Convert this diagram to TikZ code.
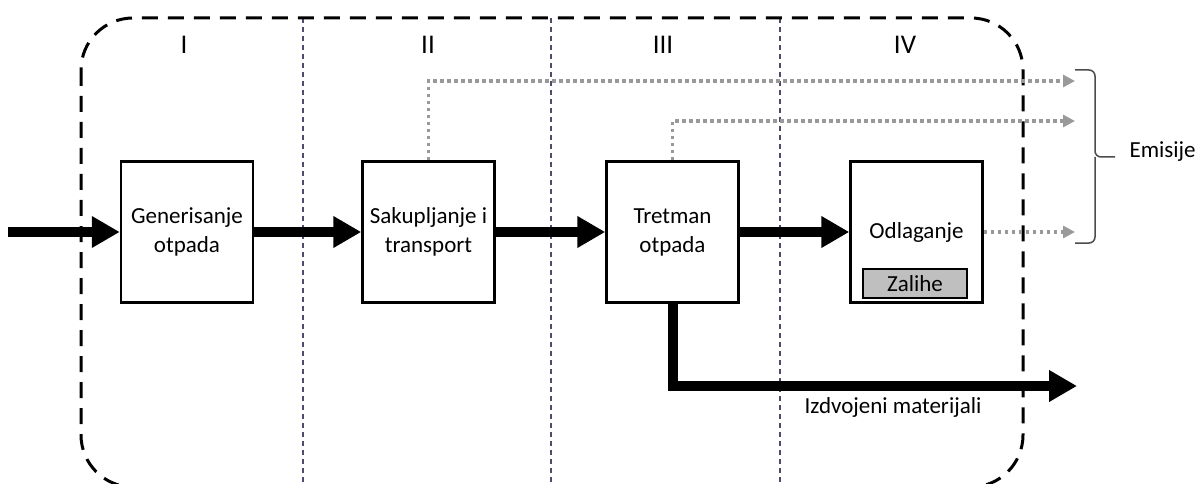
\documentclass[tikz,border=0pt]{standalone}
\usepackage{fontspec}
\setmainfont{Carlito}
\usetikzlibrary{arrows.meta}

\begin{document}
\begin{tikzpicture}[x=1pt,y=-1pt,
    font=\fontsize{23}{29}\selectfont,
    box/.style={draw,fill=white,line width=2.5pt,minimum width=132pt,minimum height=141pt,align=center,inner sep=0pt},
    flow/.style={line width=10pt,-{Triangle[length=28pt,width=30pt]}},
    emis/.style={draw=gray!80,line width=3.5pt,dash pattern=on 3.5pt off 3.5pt,-{Triangle[length=12pt,width=12pt]}},
    sep/.style={draw=blue!20!black!70,line width=1.2pt,dash pattern=on 5pt off 4pt}]
    \useasboundingbox (0,0) rectangle (1195,484);
    % phase separators and system boundary
    \foreach \x in {303,551,780}
      \draw[sep] (\x,18) -- (\x,484);
    \draw[line width=3pt,dash pattern=on 16pt off 10pt,rounded corners=52pt] (81,18) rectangle (1023,487);
    \foreach \t/\x in {I/184,II/428,III/663,IV/905}
      \node[font=\fontsize{27}{30}\selectfont] (N\t) at (\x,45) {\t};
    % process steps
    \node[box] (B1) at (187,232) {Generisanje\\otpada};
    \node[box] (B2) at (428.5,232) {Sakupljanje i\\transport};
    \node[box] (B3) at (672.5,232) {Tretman\\otpada};
    \node[box] (B4) at (916.5,232) {Odlaganje};
    \node[draw,fill=black!25,line width=2.5pt,minimum width=104pt,minimum height=29pt,inner sep=0pt] (Z) at (915,283.5) {Zalihe};
    \coordinate (In) at (8,232);
    \coordinate (Out) at (1077,386);
    \coordinate (E1) at (1075,81);
    \coordinate (E2) at (1075,121);
    \coordinate (E3) at (1075,232);
    % material flows
    \draw[flow] (In) -- (B1);
    \draw[flow] (B1) -- (B2);
    \draw[flow] (B2) -- (B3);
    \draw[flow] (B3) -- (B4);
    \draw[flow] (B3) |- (Out);
    \node (Mat) at (893,407) {Izdvojeni materijali};
    % emissions
    \draw[emis] (B2.north) |- (E1);
    \draw[emis] (B3.north) |- (E2);
    \draw[emis] (B4) -- (E3);
    \coordinate (Tip) at (1115,157);
    \draw[black!70,line width=1.5pt,rounded corners=6pt] (1075,70) -| (1095,157) -- (Tip);
    \draw[black!70,line width=1.5pt,rounded corners=6pt] (1075,243) -| (1095,157);
    \node[anchor=west] (Em) at (1126,152) {Emisije};
  \end{tikzpicture}
\end{document}
